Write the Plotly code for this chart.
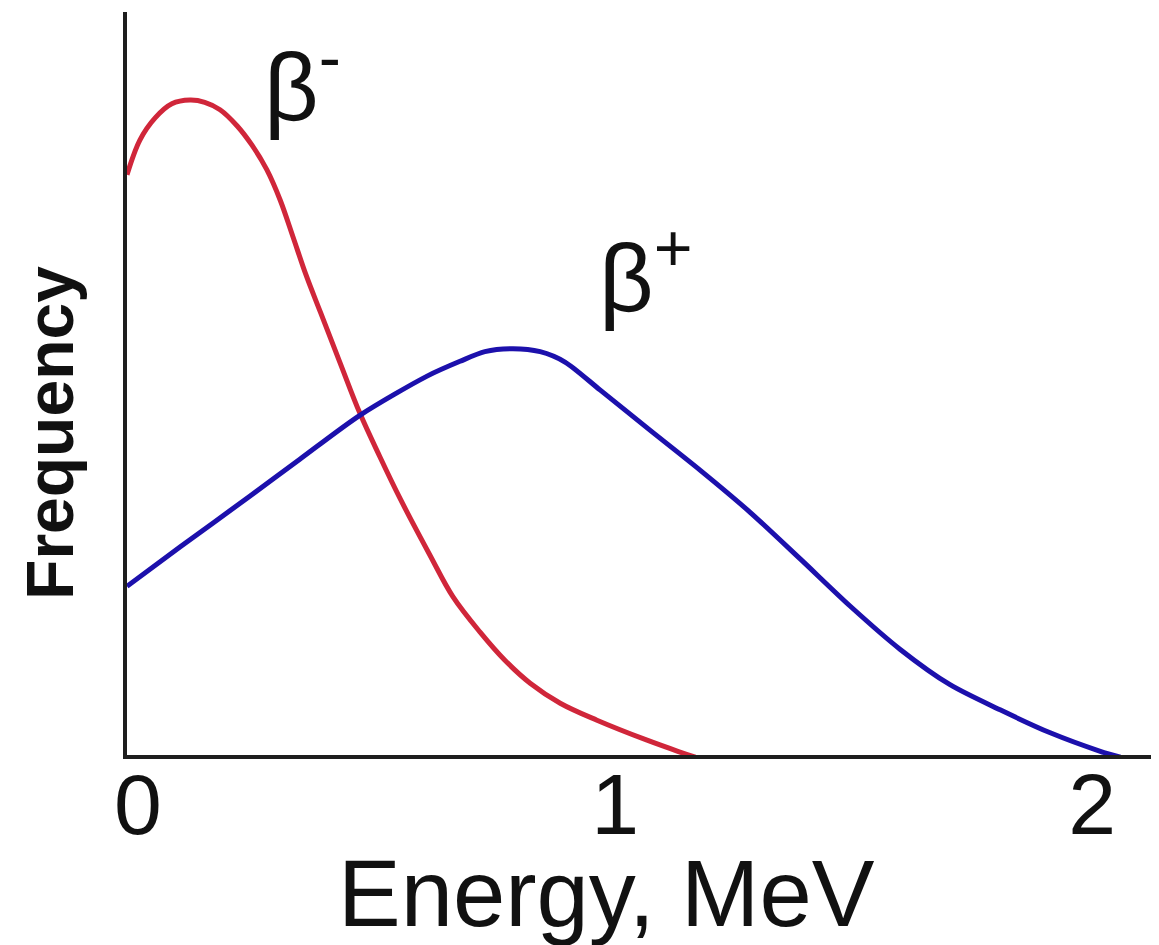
import plotly.graph_objects as go

# Energy (MeV) and relative frequency values
beta_minus_energy = [-0.023, 0.004, 0.036, 0.071, 0.109, 0.140, 0.172, 0.208, 0.239, 0.270,
                     0.298, 0.325, 0.352, 0.382, 0.423, 0.465, 0.507, 0.549, 0.612, 0.660,
                     0.717, 0.769, 0.822, 0.885, 0.962, 1.067, 1.136, 1.168]
beta_minus_freq = [78.4, 83.1, 86.1, 88.0, 88.5, 88.2, 87.2, 85.0, 82.4, 79.1,
                   75.0, 70.0, 64.9, 59.9, 53.1, 46.2, 40.3, 34.7, 27.0, 21.4,
                   16.6, 12.8, 9.7, 7.0, 4.7, 2.0, 0.4, -0.3]

beta_plus_energy = [-0.023, 0.088, 0.235, 0.340, 0.465, 0.606, 0.675, 0.727, 0.786, 0.843,
                    0.895, 0.969, 1.073, 1.178, 1.283, 1.388, 1.493, 1.597, 1.702, 1.807,
                    1.912, 2.017, 2.059]
beta_plus_freq = [22.8, 28.1, 35.0, 40.0, 45.9, 51.2, 53.2, 54.5, 54.9, 54.5,
                  53.1, 49.3, 43.9, 38.5, 32.8, 26.5, 20.1, 14.3, 9.5, 6.1,
                  3.0, 0.5, -0.3]

x_tick_values = [0, 1, 2]
x_tick_labels = ["0", "1", "2"]

RED = "#d0263a"
BLUE = "#1c10ac"
AXIS = "#1e1e1e"

fig = go.Figure()
fig.add_trace(go.Scatter(x=beta_minus_energy, y=beta_minus_freq, mode="lines",
                         line=dict(color=RED, width=5, shape="spline", smoothing=1.0),
                         hoverinfo="skip", showlegend=False))
fig.add_trace(go.Scatter(x=beta_plus_energy, y=beta_plus_freq, mode="lines",
                         line=dict(color=BLUE, width=5, shape="spline", smoothing=0.8),
                         hoverinfo="skip", showlegend=False))

# page body has an 8px margin, so the figure is 8px smaller on each side
fig.update_layout(
    width=1151, height=937,
    margin=dict(l=119, r=0, t=4, b=190, autoexpand=False),
    paper_bgcolor="white", plot_bgcolor="white",
    font=dict(family="Liberation Sans, Arial, sans-serif", color="#111"),
    xaxis=dict(range=[-0.023, 2.140], showgrid=False, zeroline=False,
               showline=True, linewidth=4, linecolor=AXIS, automargin=False,
               tickmode="array", tickvals=x_tick_values, ticktext=x_tick_labels,
               ticks="", tickfont=dict(size=86, color="#111"),
               ticklabelstandoff=-28),
    yaxis=dict(range=[0, 100.4], showgrid=False, zeroline=False,
               showline=True, linewidth=4, linecolor=AXIS, automargin=False,
               showticklabels=False, ticks=""),
    annotations=[
        dict(text="Energy, MeV", xref="paper", yref="paper", x=0.465, y=-0.186,
             xanchor="center", yanchor="middle", showarrow=False,
             font=dict(size=94, color="#111")),
        dict(text="<b>Frequency</b>", xref="paper", yref="paper", x=-0.074, y=0.433,
             xanchor="center", yanchor="middle", showarrow=False, textangle=-90,
             font=dict(size=66, color="#111")),
        dict(text="β<sup>-</sup>", xref="x", yref="y", x=0.26, y=91.2,
             xanchor="left", yanchor="middle", showarrow=False,
             font=dict(size=95, color="#111")),
        dict(text="β<sup>+</sup>", xref="x", yref="y", x=0.962, y=65.4,
             xanchor="left", yanchor="middle", showarrow=False,
             font=dict(size=95, color="#111")),
    ],
)

fig.write_html("out.html")
